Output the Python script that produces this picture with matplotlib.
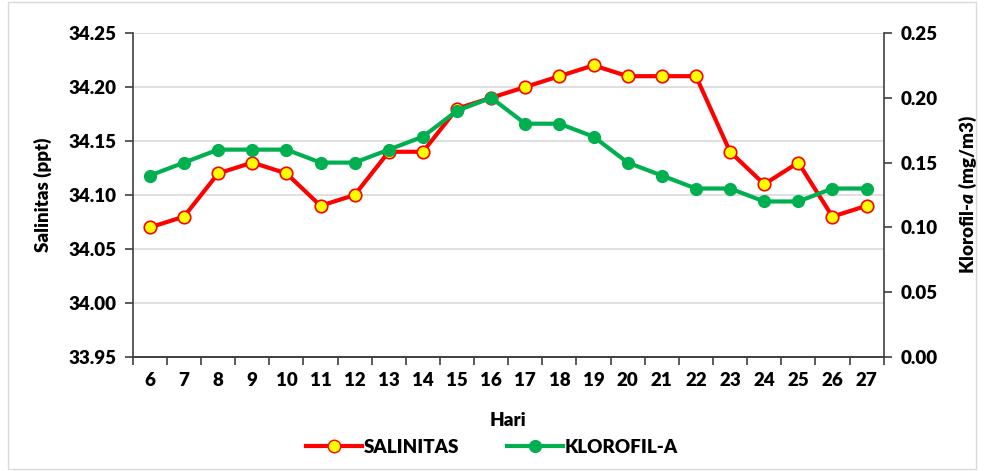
import matplotlib

matplotlib.use("Agg")
import matplotlib.pyplot as plt
from matplotlib.lines import Line2D

plt.rcParams["font.family"] = ["Lato", "DejaVu Sans"]
plt.rcParams["font.weight"] = "heavy"
plt.rcParams["axes.labelweight"] = "heavy"
plt.rcParams["mathtext.fontset"] = "custom"
plt.rcParams["mathtext.it"] = "Lato:italic:heavy"
plt.rcParams["mathtext.rm"] = "Lato:heavy"

hari = [6, 7, 8, 9, 10, 11, 12, 13, 14, 15, 16, 17, 18, 19, 20, 21, 22, 23, 24, 25, 26, 27]
salinitas = [34.07, 34.08, 34.12, 34.13, 34.12, 34.09, 34.10, 34.14, 34.14, 34.18, 34.19,
             34.20, 34.21, 34.22, 34.21, 34.21, 34.21, 34.14, 34.11, 34.13, 34.08, 34.09]
klorofil = [0.14, 0.15, 0.16, 0.16, 0.16, 0.15, 0.15, 0.16, 0.17, 0.19, 0.20,
            0.18, 0.18, 0.17, 0.15, 0.14, 0.13, 0.13, 0.12, 0.12, 0.13, 0.13]
sal_ticks = [33.95, 34.00, 34.05, 34.10, 34.15, 34.20, 34.25]
chl_ticks = [0.00, 0.05, 0.10, 0.15, 0.20, 0.25]

RED = "#ff0000"
GREEN = "#00b050"
FS = 13.5

fig = plt.figure(figsize=(9.84, 4.71), dpi=100)
ax = fig.add_axes([0.135, 0.242, 0.763, 0.688])
ax2 = ax.twinx()

x = list(range(len(hari)))
ax.plot(x, salinitas, color=RED, linewidth=3, marker="o", markersize=9,
        markerfacecolor="#ffff00", markeredgecolor=RED, markeredgewidth=1.2, zorder=3)
ax2.plot(x, klorofil, color=GREEN, linewidth=3, marker="o", markersize=8.5,
         markerfacecolor=GREEN, markeredgecolor=GREEN, zorder=3)

ax.set_xlim(-0.5, len(hari) - 0.5)
ax.set_ylim(33.95, 34.25)
ax.set_yticks(sal_ticks)
ax.set_yticklabels([f"{v:.2f}" for v in sal_ticks])
ax2.set_ylim(0, 0.25)
ax2.set_yticks(chl_ticks)
ax2.set_yticklabels([f"{v:.2f}" for v in chl_ticks])

ax.set_xticks(x)
ax.set_xticklabels([str(h) for h in hari])
ax.set_xticks([i - 0.5 for i in range(len(hari) + 1)], minor=True)
ax.tick_params(axis="x", which="major", length=0, pad=11, labelsize=FS)
ax.tick_params(axis="x", which="minor", length=6, width=1.2, color="#404040")
ax.tick_params(axis="y", length=6, width=1.2, color="#404040", labelsize=FS, pad=6)
ax2.tick_params(axis="y", length=6, width=1.2, color="#404040", labelsize=FS, pad=6)

ax.grid(axis="y", color="#d9d9d9", linewidth=1.2)
ax.set_axisbelow(True)
for a in (ax, ax2):
    a.spines["top"].set_visible(False)
    for side in ("left", "right", "bottom"):
        a.spines[side].set_color("#404040")
        a.spines[side].set_linewidth(1.2)
ax.spines["right"].set_visible(False)
ax2.spines["left"].set_visible(False)

ax.set_xlabel("Hari", fontsize=FS, fontweight="heavy", labelpad=16)
ax.set_ylabel("Salinitas (ppt)", fontsize=FS, fontweight="heavy", labelpad=12)
ax2.set_ylabel(r"Klorofil-$\mathit{a}$ (mg/m3)", fontsize=FS, fontweight="heavy", labelpad=14)

handles = [
    Line2D([], [], color=RED, linewidth=3, marker="o", markersize=9,
           markerfacecolor="#ffff00", markeredgecolor=RED),
    Line2D([], [], color=GREEN, linewidth=3, marker="o", markersize=8.5,
           markerfacecolor=GREEN, markeredgecolor=GREEN),
]
fig.legend(handles, ["SALINITAS", "KLOROFIL-A"], loc="center", bbox_to_anchor=(0.5, 0.05),
           ncol=2, frameon=False, fontsize=FS, handlelength=3.0, handletextpad=0.1,
           columnspacing=2.5)

fig.patches.append(plt.Rectangle((0.008, 0.005), 0.984, 0.99, transform=fig.transFigure,
                                 fill=False, edgecolor="#d9d9d9", linewidth=1))

fig.savefig("out.png", dpi=100)
plt.close(fig)
